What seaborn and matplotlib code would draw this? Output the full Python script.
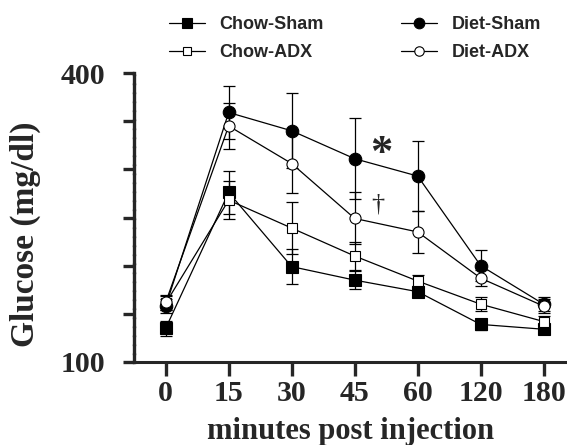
import seaborn as sns
import matplotlib.pyplot as plt
import pandas as pd

# данные (mg/dl, среднее ± SEM)
times = ['0', '15', '30', '45', '60', '120', '180']
chow_sham = [135, 276, 199, 185, 173, 139, 134]
chow_sham_sem = [8, 22, 18, 9, 6, 6, 5]
chow_adx = [161, 268, 239, 210, 184, 160, 142]
chow_adx_sem = [7, 20, 27, 15, 6, 7, 6]
diet_sham = [158, 359, 340, 311, 293, 200, 160]
diet_sham_sem = [7, 28, 39, 42, 36, 16, 7]
diet_adx = [162, 345, 306, 249, 235, 187, 158]
diet_adx_sem = [8, 24, 31, 27, 22, 8, 7]

groups = ['Chow-Sham', 'Chow-ADX', 'Diet-Sham', 'Diet-ADX']
means = [chow_sham, chow_adx, diet_sham, diet_adx]
sems = [chow_sham_sem, chow_adx_sem, diet_sham_sem, diet_adx_sem]
markers = ['s', 's', 'o', 'o']
faces = ['black', 'white', 'black', 'white']
sizes = [9, 7, 9, 8]

sns.set_style('ticks')
plt.rcParams['font.family'] = ['Liberation Serif', 'DejaVu Serif']
plt.rcParams['font.weight'] = 'bold'

fig = plt.figure(figsize=(5.67, 4.45), dpi=100)
ax = fig.add_axes([134 / 567, 1 - 362 / 445, 1 - 134 / 567, (362 - 73) / 445])

pos = list(range(len(times)))
for g, m, s, mk, fc, ms in zip(groups, means, sems, markers, faces, sizes):
    df = pd.DataFrame({'x': pos, 'y': m})
    ax.errorbar(pos, m, yerr=s, fmt='none', ecolor='black', elinewidth=0.9,
                capsize=4.5, capthick=0.9, zorder=2)
    sns.lineplot(data=df, x='x', y='y', ax=ax, color='black', lw=0.9,
                 marker=mk, markersize=ms, markerfacecolor=fc,
                 markeredgecolor='black', markeredgewidth=0.8, label=g,
                 zorder=3)

# значимость
ax.text(3.42, 316, '*', fontsize=32, ha='center', va='center',
        family='Liberation Serif')
ax.text(3.36, 264, '†', fontsize=19, ha='center', va='center',
        family='Liberation Serif', fontweight='normal')

ax.set_xlim(-0.503, 6.37)
ax.set_ylim(100, 400)
ax.set_xticks(pos)
ax.set_xticklabels(times)
ax.set_yticks(range(100, 401, 50))
ax.set_yticklabels(['100', '', '', '', '', '', '400'])
ax.tick_params(axis='y', length=8, width=2.4, pad=13, labelsize=21.5)
ax.tick_params(axis='x', length=10, width=2.4, pad=3, labelsize=21.5)
for t in ax.get_xticklabels() + ax.get_yticklabels():
    t.set_fontweight('bold')

sns.despine(ax=ax)
ax.spines['left'].set_linewidth(2.4)
ax.spines['left'].set_linestyle((0, (2.2, 0.5)))
ax.spines['bottom'].set_linewidth(2.2)

ax.set_xlabel('minutes post injection', fontsize=22, fontweight='bold', labelpad=7)
ax.set_ylabel('Glucose (mg/dl)', fontsize=24, fontweight='bold')
ax.yaxis.set_label_coords(-0.215, 0.443)

h, l = ax.get_legend_handles_labels()
leg = ax.legend(h, l, ncol=2, frameon=False, loc='center',
                bbox_to_anchor=(0.51, 1.118),
                prop={'family': 'Liberation Sans', 'weight': 'bold', 'size': 13},
                handlelength=2.0, handletextpad=0.8, columnspacing=4.3,
                labelspacing=0.62, markerscale=0.85)

fig.savefig('out.png', dpi=100)
